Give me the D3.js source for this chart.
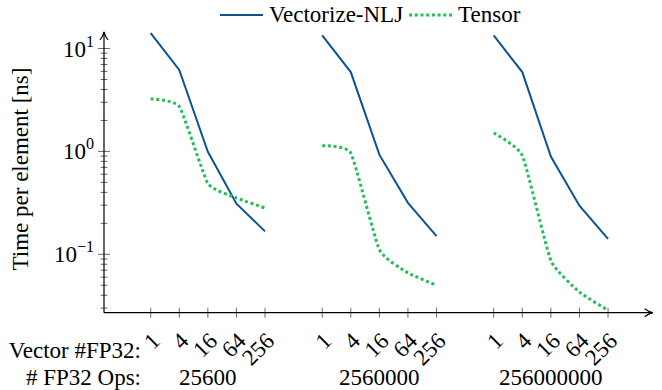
<!DOCTYPE html>
<html><head><meta charset="utf-8"><script src="https://cdn.jsdelivr.net/npm/d3@7"></script></head>
<body style="margin:0">
<script>
var w = 662;
var h = 390;

// data
var vecSizes = ["1", "4", "16", "64", "256"];
var opsGroups = ["25600", "2560000", "256000000"];
var nljValues = [
    [14.1, 6.2, 0.99, 0.31, 0.167],
    [13.4, 5.9, 0.93, 0.316, 0.150],
    [13.4, 5.9, 0.89, 0.297, 0.141]
];
var tensorValues = [
    [3.25, 2.73, 0.49, 0.353, 0.282],
    [1.135, 0.964, 0.111, 0.066, 0.050],
    [1.51, 0.914, 0.087, 0.043, 0.0286]
];
var seriesNames = ["Vectorize-NLJ", "Tensor"];
var yMajor = [0.1, 1, 10];
var yExp = ["\u22121", "0", "1"];

var blue = "#0b5394";
var green = "#22c055";
var fs = 23;
var serif = "'Liberation Serif'";

var svg = d3.select("body")
    .append("svg")
    .attr("width", w)
    .attr("height", h);

var axisX = 104, axisY = 312.7, axisTop = 32, axisRight = 652.7;

// x position: index within group + 6 * group
var xScale = d3.scaleLinear()
    .domain([0, 12])
    .range([150.7, 493.7]);

var yScale = d3.scaleLog()
    .domain([0.1, 10])
    .range([254.3, 48.5]);

function pos(g, i) { return 6 * g + i; }

function label(sel) {
    return sel.append("text")
        .attr("font-size", fs)
        .style("font-family", serif);
}

//minor + major y ticks
var yLow = yScale.invert(axisY), yHigh = yScale.invert(axisTop);
var minor = [];
[0.01, 0.1, 1, 10].forEach(function(dec) {
    for (var k = 2; k <= 9; k++) {
        var v = dec * k;
        if (v > yLow && v < yHigh) minor.push(v);
    }
});

var tickG = svg.append("g").attr("stroke", "#444").attr("stroke-width", 0.8);
tickG.selectAll(".minor")
    .data(minor)
    .enter()
    .append("line")
    .attr("x1", axisX - 3.5)
    .attr("x2", axisX + 3.5)
    .attr("y1", d => yScale(d))
    .attr("y2", d => yScale(d));
tickG.selectAll(".major")
    .data(yMajor)
    .enter()
    .append("line")
    .attr("x1", axisX - 6)
    .attr("x2", axisX + 6)
    .attr("y1", d => yScale(d))
    .attr("y2", d => yScale(d));

//x ticks
var xTicks = [];
opsGroups.forEach(function(o, g) {
    vecSizes.forEach(function(s, i) { xTicks.push({g: g, i: i, label: s}); });
});
tickG.selectAll(".xt")
    .data(xTicks)
    .enter()
    .append("line")
    .attr("x1", d => xScale(pos(d.g, d.i)))
    .attr("x2", d => xScale(pos(d.g, d.i)))
    .attr("y1", axisY - 5)
    .attr("y2", axisY + 5);

//axes with arrows
svg.append("defs").append("marker")
    .attr("id", "arrow")
    .attr("viewBox", "0 0 10 10")
    .attr("refX", 9)
    .attr("refY", 5)
    .attr("markerWidth", 10)
    .attr("markerHeight", 10)
    .attr("markerUnits", "userSpaceOnUse")
    .attr("orient", "auto")
    .append("path")
    .attr("d", "M1,1 Q5,4 9,5 Q5,6 1,9")
    .attr("fill", "none")
    .attr("stroke", "#000")
    .attr("stroke-width", 1.2);

svg.append("line")
    .attr("x1", axisX).attr("y1", axisY)
    .attr("x2", axisX).attr("y2", axisTop)
    .attr("stroke", "#000").attr("stroke-width", 1.2)
    .attr("marker-end", "url(#arrow)");
svg.append("line")
    .attr("x1", axisX).attr("y1", axisY)
    .attr("x2", axisRight).attr("y2", axisY)
    .attr("stroke", "#000").attr("stroke-width", 1.2)
    .attr("marker-end", "url(#arrow)");

//lines
var line = d3.line()
    .x(d => xScale(d.x))
    .y(d => yScale(d.v));
var smooth = d3.line()
    .x(d => xScale(d.x))
    .y(d => yScale(d.v))
    .curve(d3.curveCardinal.tension(0.55));

nljValues.forEach(function(vals, g) {
    svg.append("path")
        .datum(vals.map((v, i) => ({x: pos(g, i), v: v})))
        .attr("d", line)
        .attr("fill", "none")
        .attr("stroke", blue)
        .attr("stroke-width", 2);
});
tensorValues.forEach(function(vals, g) {
    svg.append("path")
        .datum(vals.map((v, i) => ({x: pos(g, i), v: v})))
        .attr("d", smooth)
        .attr("fill", "none")
        .attr("stroke", green)
        .attr("stroke-width", 3)
        .attr("stroke-dasharray", "3,2.7");
});

//y tick labels
yMajor.forEach(function(v, k) {
    var t = label(svg)
        .attr("text-anchor", "end")
        .attr("x", axisX - 10)
        .attr("y", yScale(v) + 8);
    t.append("tspan").text("10");
    t.append("tspan")
        .attr("dy", -10)
        .attr("font-size", fs * 0.7)
        .text(yExp[k]);
});

//y axis title
label(svg)
    .attr("transform", "translate(28,169) rotate(-90)")
    .attr("text-anchor", "middle")
    .text("Time per element [ns]");

//x tick labels
xTicks.forEach(function(d) {
    label(svg)
        .attr("text-anchor", "end")
        .attr("dy", "0.35em")
        .attr("transform", "translate(" + (xScale(pos(d.g, d.i)) + 5) + "," + (axisY + 24) + ") rotate(-45)")
        .text(d.label);
});

//group labels
label(svg)
    .attr("x", 141).attr("y", 358)
    .attr("text-anchor", "end")
    .text("Vector #FP32:");
label(svg)
    .attr("x", 141).attr("y", 385)
    .attr("text-anchor", "end")
    .text("# FP32 Ops:");
opsGroups.forEach(function(o, g) {
    label(svg)
        .attr("x", xScale(pos(g, 2)))
        .attr("y", 385)
        .attr("text-anchor", "middle")
        .text(o);
});

//legend
var lx = 220, ly = 15;
seriesNames.forEach(function(name, k) {
    svg.append("line")
        .attr("x1", lx).attr("x2", lx + 43)
        .attr("y1", ly).attr("y2", ly)
        .attr("stroke", k == 0 ? blue : green)
        .attr("stroke-width", k == 0 ? 2 : 3)
        .attr("stroke-dasharray", k == 0 ? null : "3,2.7");
    var t = label(svg)
        .attr("x", lx + 49)
        .attr("y", ly + 7)
        .text(name);
    lx = lx + 49 + t.node().getComputedTextLength() + 6;
});
</script>
</body>
</html>
